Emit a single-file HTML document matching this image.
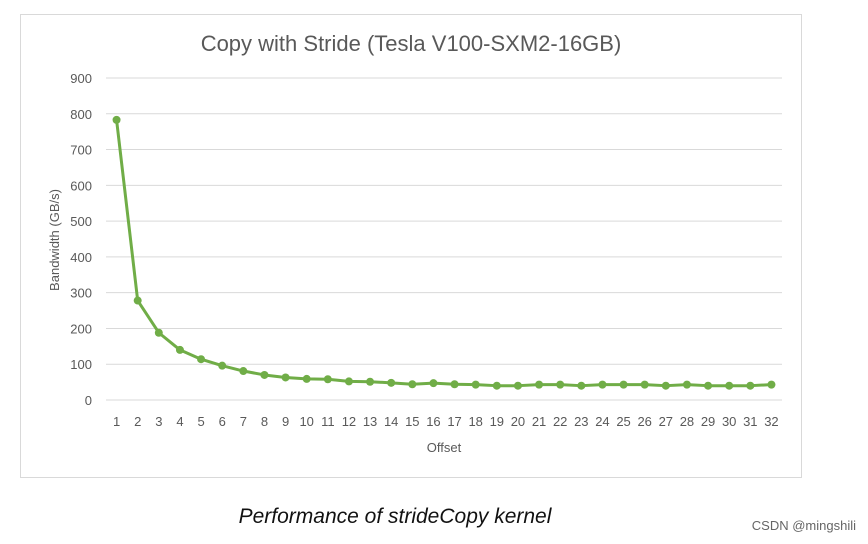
<!DOCTYPE html>
<html><head><meta charset="utf-8">
<style>
html,body{margin:0;padding:0;background:#fff;width:868px;height:544px;overflow:hidden;font-family:"Liberation Sans",sans-serif;}
#frame{position:absolute;left:20px;top:14px;width:782px;height:464px;border:1px solid #d9d9d9;box-sizing:border-box;}
#caption{position:absolute;left:0;width:790px;top:505px;text-align:center;font-style:italic;font-size:21px;color:#111;}
#wm{position:absolute;right:12px;top:518px;font-size:13px;color:#666;}
</style></head><body>
<div id="frame"></div>
<svg id="chart" width="868" height="544" style="position:absolute;left:0;top:0"></svg>
<div id="caption">Performance of strideCopy kernel</div>
<div id="wm">CSDN @mingshili</div>
<script>
const offsets = [1,2,3,4,5,6,7,8,9,10,11,12,13,14,15,16,17,18,19,20,21,22,23,24,25,26,27,28,29,30,31,32];
const bandwidth = [783,278,188,140,114,96,81,70,63,59,58,52,51,48,44,47,44,43,40,40,43,43,40,43,43,43,40,43,40,40,40,43];
const yTicks = [0,100,200,300,400,500,600,700,800,900];

const NS="http://www.w3.org/2000/svg";
const svg=document.getElementById('chart');
const L=106,R=782,Y0=400,Y1=78,YMAX=900;
const band=(R-L)/offsets.length;
const xs=i=>L+band*(i+0.5);
const ys=v=>Y0-(v/YMAX)*(Y0-Y1);
function mk(tag,attrs,parent){const e=document.createElementNS(NS,tag);for(const k in attrs)e.setAttribute(k,attrs[k]);(parent||svg).appendChild(e);return e;}

yTicks.forEach(t=>{
  const g=mk('line',{x1:L,x2:R,y1:ys(t),y2:ys(t),stroke:'#d9d9d9','stroke-width':1});
  
  
  const tx=mk('text',{x:92,y:ys(t)+5,'text-anchor':'end','font-size':13,fill:'#595959','font-family':'Liberation Sans, sans-serif'});
  tx.textContent=t;
  
  
});
offsets.forEach((o,i)=>{
  const tx=mk('text',{x:xs(i),y:426,'text-anchor':'middle','font-size':13,fill:'#595959','font-family':'Liberation Sans, sans-serif'});
  tx.textContent=o;
  
  
});
const pts=bandwidth.map((v,i)=>xs(i)+','+ys(v)).join(' ');
const pl=mk('polyline',{points:pts,fill:'none',stroke:'#70ad47','stroke-width':3,'stroke-linejoin':'round'});


bandwidth.forEach((v,i)=>{
  const c=mk('circle',{cx:xs(i),cy:ys(v),r:4,fill:'#70ad47'});
  
  
});
const title=mk('text',{x:411,y:51,'text-anchor':'middle','font-size':22,fill:'#595959','font-family':'Liberation Sans, sans-serif'});
title.textContent='Copy with Stride (Tesla V100-SXM2-16GB)';


const xt=mk('text',{x:444,y:452,'text-anchor':'middle','font-size':13,fill:'#595959','font-family':'Liberation Sans, sans-serif'});
xt.textContent='Offset';


const yt=mk('text',{x:0,y:0,'text-anchor':'middle','font-size':13,fill:'#595959','font-family':'Liberation Sans, sans-serif',transform:'translate(59,240) rotate(-90)'});
yt.textContent='Bandwidth (GB/s)';


</script>
</body></html>
